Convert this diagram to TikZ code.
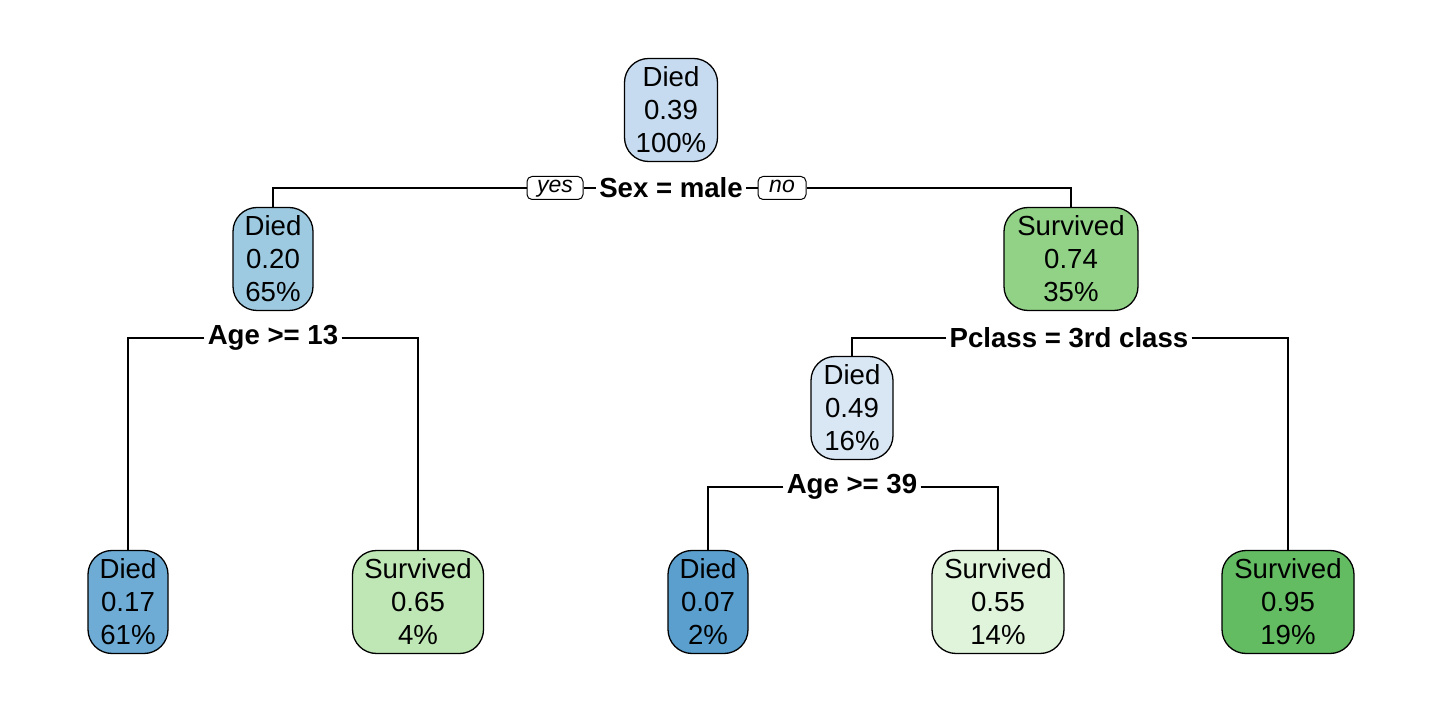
\documentclass[tikz,border=0pt]{standalone}
\usepackage{fontspec}
\setmainfont{Liberation Sans}
\definecolor{cRoot}{HTML}{C6DBEF}
\definecolor{cA}{HTML}{9ECAE1}
\definecolor{cB}{HTML}{6EACD5}
\definecolor{cC}{HTML}{5A9FCD}
\definecolor{cD}{HTML}{D9E7F5}
\definecolor{cE}{HTML}{91D287}
\definecolor{cF}{HTML}{BFE6B5}
\definecolor{cG}{HTML}{E0F3DB}
\definecolor{cH}{HTML}{63BB62}
\begin{document}
\begin{tikzpicture}[x=0.5pt,y=-0.5pt,
  box/.style={draw=black, line width=0.65pt, rounded corners=12pt, align=center,
    font=\fontsize{13.8}{16.5}\selectfont, inner xsep=0pt, inner ysep=0pt,
    minimum height=51.5pt},
  split/.style={font=\bfseries\fontsize{13.8}{15}\selectfont, inner sep=1.5pt},
  tag/.style={draw=black, line width=0.5pt, rounded corners=2.5pt,
    font=\itshape\fontsize{11.5}{12}\selectfont, inner xsep=0pt, inner ysep=0pt,
    text height=7.5pt, text depth=3pt, minimum height=11.5pt},
  link/.style={line width=0.55pt}]
\useasboundingbox (0,0) rectangle (1440,710);
% nodes
\node[box, fill=cRoot, minimum width=46.5pt] (root) at (671,110) {Died\\0.39\\100\%};
\node[split] (sex) at (671,188) {Sex = male};
\node[tag, minimum width=28pt] (yes) at (555,188) {yes};
\node[tag, minimum width=24pt] (no) at (782,188) {no};
\node[box, fill=cA, minimum width=40pt] (n2) at (273,259) {Died\\0.20\\65\%};
\node[box, fill=cE, minimum width=67pt] (n3) at (1071,259) {Survived\\0.74\\35\%};
\node[split] (age13) at (273,338) {Age >= 13};
\node[split] (pclass) at (1069,338) {Pclass = 3rd class};
\node[box, fill=cD, minimum width=41pt] (n6) at (852,408) {Died\\0.49\\16\%};
\node[split] (age39) at (852,487) {Age >= 39};
\node[box, fill=cB, minimum width=40pt] (l1) at (128,602) {Died\\0.17\\61\%};
\node[box, fill=cF, minimum width=65.5pt] (l2) at (418,602) {Survived\\0.65\\4\%};
\node[box, fill=cC, minimum width=40pt] (l3) at (708,602) {Died\\0.07\\2\%};
\node[box, fill=cG, minimum width=66pt] (l4) at (998,602) {Survived\\0.55\\14\%};
\node[box, fill=cH, minimum width=66pt] (l5) at (1288,602) {Survived\\0.95\\19\%};
% connectors
\draw[link] (sex.west) -- (yes.east);
\draw[link] (yes.west) -| (n2.north);
\draw[link] (sex.east) -- (no.west);
\draw[link] (no.east) -| (n3.north);
\draw[link] (age13.west) -| (l1.north);
\draw[link] (age13.east) -| (l2.north);
\draw[link] (pclass.west) -| (n6.north);
\draw[link] (pclass.east) -| (l5.north);
\draw[link] (age39.west) -| (l3.north);
\draw[link] (age39.east) -| (l4.north);
\end{tikzpicture}
\end{document}
